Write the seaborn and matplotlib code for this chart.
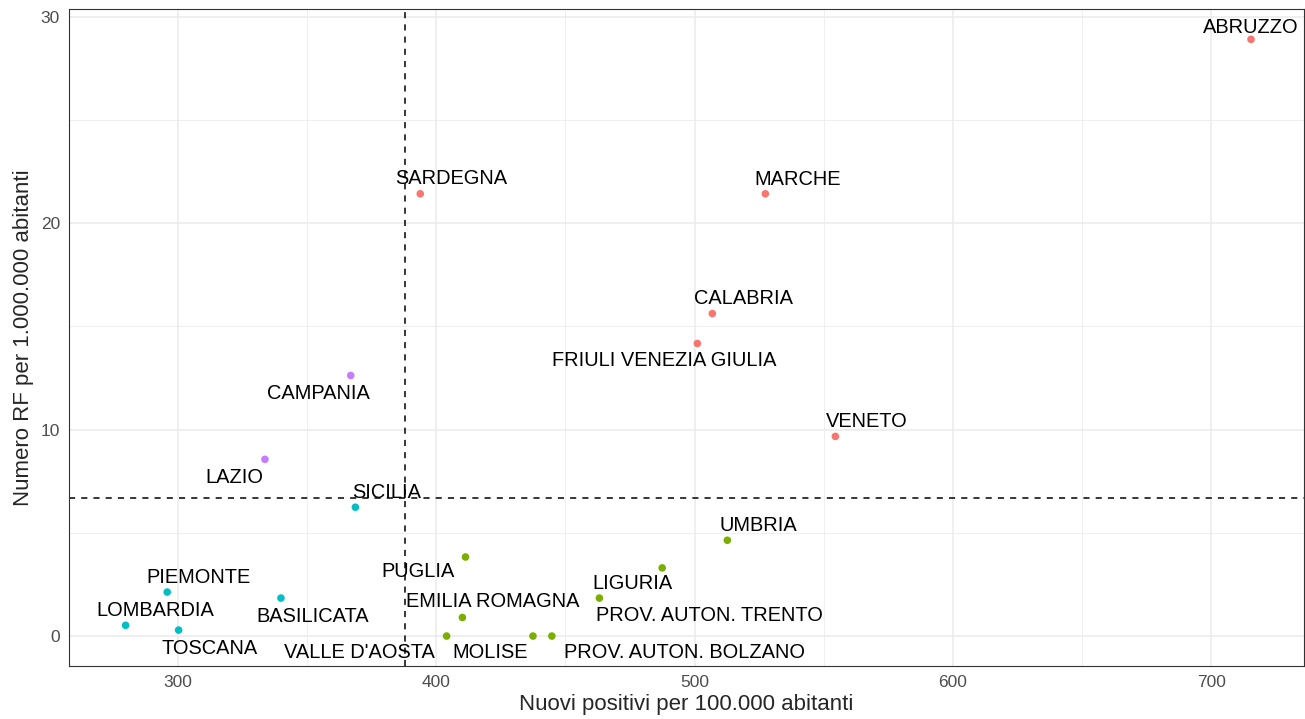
import matplotlib
matplotlib.use("Agg")
import matplotlib.pyplot as plt
import seaborn as sns
import pandas as pd
from matplotlib.ticker import MultipleLocator

# --- data ---
regioni = ["ABRUZZO", "SARDEGNA", "MARCHE", "CALABRIA", "FRIULI VENEZIA GIULIA", "VENETO",
           "CAMPANIA", "LAZIO",
           "SICILIA", "PIEMONTE", "BASILICATA", "LOMBARDIA", "TOSCANA",
           "UMBRIA", "PUGLIA", "LIGURIA", "PROV. AUTON. TRENTO", "EMILIA ROMAGNA",
           "VALLE D'AOSTA", "MOLISE", "PROV. AUTON. BOLZANO"]
positivi = [715.3, 393.9, 527.4, 506.9, 501.1, 554.5,
            367.0, 333.8,
            368.8, 296.0, 340.0, 279.9, 300.4,
            512.7, 411.4, 487.5, 463.2, 410.2,
            404.1, 437.5, 444.8]
rf = [28.9, 21.42, 21.42, 15.62, 14.17, 9.67,
      12.62, 8.56,
      6.24, 2.13, 1.84, 0.52, 0.29,
      4.64, 3.83, 3.30, 1.84, 0.90,
      0.0, 0.0, 0.0]
cluster = ["1"] * 6 + ["4"] * 2 + ["3"] * 5 + ["2"] * 8
soglia_x = 388.0
soglia_y = 6.67

df = pd.DataFrame({"regione": regioni, "positivi": positivi, "rf": rf, "cluster": cluster})

palette = {"1": "#F8766D", "2": "#7CAE00", "3": "#00BFC4", "4": "#C77CFF"}

# label placement (pixel offsets from each point, like ggrepel did)
offsets = {
    "ABRUZZO": (0, 12), "SARDEGNA": (31, 15), "MARCHE": (32, 14), "CALABRIA": (31, 15),
    "FRIULI VENEZIA GIULIA": (-33, -17), "VENETO": (31, 15), "CAMPANIA": (-32, -18),
    "LAZIO": (-31, -18), "SICILIA": (31, 15), "UMBRIA": (31, 15), "PUGLIA": (-47, -15),
    "LIGURIA": (-30, -16), "PROV. AUTON. TRENTO": (110, -17), "EMILIA ROMAGNA": (30, 16),
    "PIEMONTE": (31, 15), "BASILICATA": (32, -18), "LOMBARDIA": (30, 15),
    "TOSCANA": (31, -18), "VALLE D'AOSTA": (-87, -16), "MOLISE": (-43, -16),
    "PROV. AUTON. BOLZANO": (133, -16),
}

sns.set_style("white")
plt.rcParams["font.family"] = ["Liberation Sans", "DejaVu Sans"]

fig, ax = plt.subplots(figsize=(13.05, 7.19), dpi=100)
fig.subplots_adjust(left=69 / 1305, right=1304 / 1305, top=1 - 9 / 719, bottom=1 - 666 / 719)

ax.set_axisbelow(True)
ax.xaxis.set_major_locator(MultipleLocator(100))
ax.xaxis.set_minor_locator(MultipleLocator(50))
ax.yaxis.set_major_locator(MultipleLocator(10))
ax.yaxis.set_minor_locator(MultipleLocator(5))
ax.grid(which="major", color="#EBEBEB", linewidth=1.1)
ax.grid(which="minor", color="#EBEBEB", linewidth=0.55)

sns.scatterplot(data=df, x="positivi", y="rf", hue="cluster", palette=palette,
                s=30, linewidth=0, legend=False, ax=ax, zorder=3)

ax.axvline(soglia_x, color="black", linestyle=(0, (4, 4)), linewidth=1.1, zorder=2)
ax.axhline(soglia_y, color="black", linestyle=(0, (4, 4)), linewidth=1.1, zorder=2)

for _, r in df.iterrows():
    dx, dy = offsets[r["regione"]]
    ax.annotate(r["regione"], (r["positivi"], r["rf"]), xytext=(dx, dy),
                textcoords="offset pixels", ha="center", va="center",
                fontsize=14.4, color="black", zorder=4)

ax.set_xlim(258.0, 735.8)
ax.set_ylim(-1.45, 30.37)

for s in ax.spines.values():
    s.set_color("#333333")
    s.set_linewidth(0.8)

ax.tick_params(axis="both", which="major", length=3.5, width=0.8, color="#333333",
               labelsize=12.5, labelcolor="#4D4D4D", pad=3)
ax.tick_params(which="minor", length=0)

ax.set_xlabel("Nuovi positivi per 100.000 abitanti", fontsize=16, labelpad=3)
ax.set_ylabel("Numero RF per 1.000.000 abitanti", fontsize=16, labelpad=5)

plt.savefig("out.png", dpi=100)
plt.close()
